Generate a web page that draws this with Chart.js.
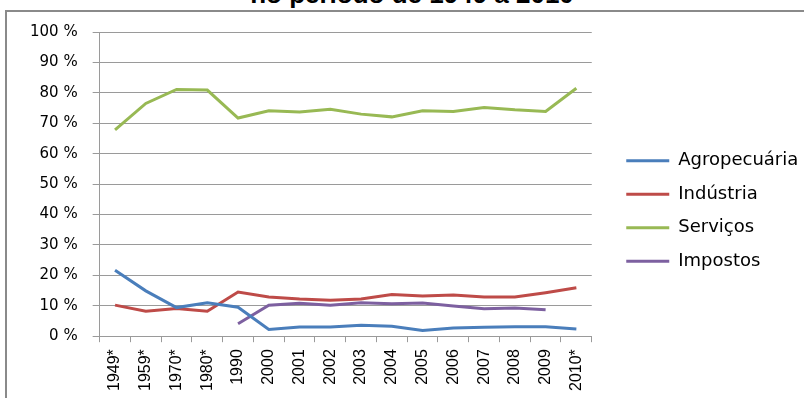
<!DOCTYPE html>
<html>
<head>
<meta charset="utf-8">
<script src="https://cdn.jsdelivr.net/npm/chart.js@4"></script>
<style>
    body { margin: 0; width: 804px; height: 398px; overflow: hidden; background: #fff; position: relative; }
    #titulo { position: absolute; left: 20px; width: 784px; top: -19px; text-align: center; white-space: nowrap;
        font: bold 26px "Liberation Sans", Arial, sans-serif; line-height: 26px; color: #000; }
    #moldura { position: absolute; left: 5px; top: 10px; width: 900px; height: 500px;
        border-left: 2px solid #8a8a8a; border-top: 2px solid #8a8a8a; }
    #grafico { position: absolute; left: 0; top: 0; }
</style>
</head>
<body>
<div id="titulo">no período de 1949 a 2010</div>
<div id="moldura"></div>
<canvas id="grafico" width="804" height="398"></canvas>
<script>
// Dados (% do PIB)
const anos = ['1949*', '1959*', '1970*', '1980*', '1990', '2000', '2001', '2002', '2003', '2004', '2005', '2006', '2007', '2008', '2009', '2010*'];
const agropecuaria = [21.7, 14.9, 9.4, 11.0, 9.5, 2.2, 3.0, 3.0, 3.6, 3.3, 1.9, 2.7, 2.9, 3.1, 3.1, 2.4];
const industria = [10.2, 8.2, 9.1, 8.2, 14.5, 12.9, 12.2, 11.8, 12.2, 13.7, 13.2, 13.5, 12.9, 12.9, 14.3, 15.9];
const servicos = [67.8, 76.5, 81.1, 80.9, 71.7, 74.1, 73.7, 74.6, 73.0, 72.1, 74.1, 73.9, 75.2, 74.4, 73.9, 81.5];
const impostos = [null, null, null, null, 4.1, 10.2, 10.8, 10.2, 11.0, 10.7, 10.9, 9.9, 9.0, 9.3, 8.7, null];

const cinza = '#9a9a9a';

function serie(nome, dados, cor) {
    return {
        label: nome,
        data: dados,
        borderColor: cor,
        backgroundColor: cor,
        borderWidth: 3,
        pointRadius: 0,
        tension: 0,
        spanGaps: false
    };
}

// empurra a legenda um pouco para a direita/cima (como no Excel)
const moveLegenda = {
    id: 'moveLegenda',
    afterLayout(chart) {
        const lg = chart.legend;
        lg.left += 19; lg.right += 19;
        lg.top -= 4; lg.bottom -= 4;
    }
};

const ctx = document.getElementById('grafico').getContext('2d');
new Chart(ctx, {
    type: 'line',
    data: {
        labels: anos,
        datasets: [
            serie('Agropecuária', agropecuaria, '#4a7ebb'),
            serie('Indústria', industria, '#be4b48'),
            serie('Serviços', servicos, '#98b954'),
            serie('Impostos', impostos, '#7d60a0')
        ]
    },
    plugins: [moveLegenda],
    options: {
        responsive: false,
        animation: false,
        layout: { padding: { left: 15, top: 32, bottom: 0, right: 20 } },
        plugins: {
            tooltip: { enabled: false },
            legend: {
                position: 'right',
                labels: {
                    usePointStyle: true,
                    pointStyle: 'line',
                    pointStyleWidth: 43,
                    color: '#000',
                    font: { family: 'DejaVu Sans', size: 18 },
                    padding: 15.5
                }
            }
        },
        scales: {
            x: {
                offset: true,
                grid: { offset: true, drawOnChartArea: false, tickLength: 6, color: cinza },
                border: { color: cinza },
                ticks: {
                    minRotation: 90, maxRotation: 90, color: '#000', padding: 7,
                    font: { family: 'Liberation Sans', size: 16 }
                }
            },
            y: {
                min: 0,
                max: 100,
                grid: { color: cinza, tickLength: 7 },
                border: { color: cinza },
                ticks: {
                    stepSize: 10,
                    color: '#000',
                    font: { family: 'DejaVu Sans', size: 15 },
                    padding: 15,
                    callback: function (v) { return v + ' %'; }
                }
            }
        }
    }
});
</script>
</body>
</html>
